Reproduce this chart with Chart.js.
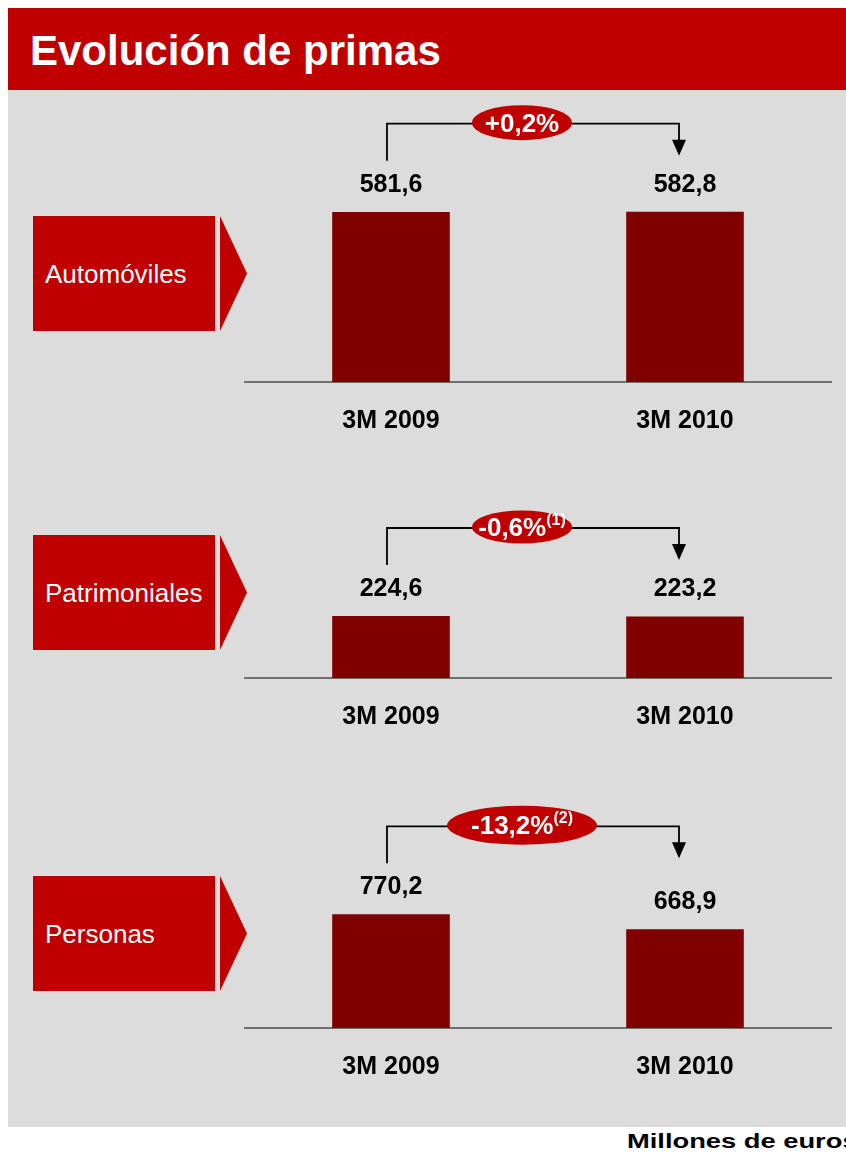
<!DOCTYPE html>
<html>
<head>
<meta charset="utf-8">
<script src="https://cdn.jsdelivr.net/npm/chart.js@4"></script>
<style>
    body { margin: 0; width: 846px; height: 1154px; background: #fff; position: relative; overflow: hidden; font-family: "Liberation Sans", Arial, sans-serif; }
    .header { position: absolute; left: 8px; top: 8px; width: 838px; height: 82px; background: #C00000; }
    .header h1 { margin: 0; position: absolute; left: 22px; top: 19px; color: #fff; font-size: 42px; font-weight: bold; line-height: 48px; }
    .panel-bg { position: absolute; left: 8px; top: 90px; width: 838px; height: 1037px; background: #DCDCDC; }
    .seg { position: absolute; left: 33px; width: 182px; height: 115px; background: #C00000; color: #fff; font-size: 26px; line-height: 117px; text-indent: 12px; }
    .chev { position: absolute; left: 220px; width: 27px; height: 115px; background: #C00000; clip-path: polygon(0 0, 100% 50%, 0 100%); }
    .box { position: absolute; left: 244px; width: 588px; }
    .units { position: absolute; left: 627px; top: 1129px; font-size: 21px; font-weight: bold; color: #000; white-space: nowrap; transform: scaleX(1.3); transform-origin: left top; }
</style>
</head>
<body>
<div class="header"><h1>Evolución de primas</h1></div>
<div class="panel-bg"></div>

<div class="seg" style="top:216px" id="seg0"></div><div class="chev" style="top:216px"></div>
<div class="seg" style="top:535px" id="seg1"></div><div class="chev" style="top:535px"></div>
<div class="seg" style="top:876px" id="seg2"></div><div class="chev" style="top:876px"></div>

<div class="box" style="top:100px;height:340px"><canvas id="autoChart"></canvas></div>
<div class="box" style="top:500px;height:236px"><canvas id="patrimonialesChart"></canvas></div>
<div class="box" style="top:800px;height:286px"><canvas id="personasChart"></canvas></div>

<div class="units">Millones de euros</div>

<script>
// data
const periods = ["3M 2009", "3M 2010"];
const segments = ["Automóviles", "Patrimoniales", "Personas"];
const autoValues = [581.6, 582.8];
const patrimonialesValues = [224.6, 223.2];
const personasValues = [770.2, 668.9];
const changes = ["+0,2%", "-0,6%", "-13,2%"];
const notes = ["", "(1)", "(2)"];

const theme = {
    red: "#C00000",
    bar: "#800000",
    axis: "#6F6F6F",
    text: "#000"
};
const FONT = '"Liberation Sans", Arial, sans-serif';

segments.forEach((s, i) => document.getElementById("seg" + i).textContent = s);

const fmt = v => v.toFixed(1).replace(".", ",");

// value labels + change bracket
const bracketPlugin = {
    id: "bracket",
    afterDatasetsDraw(chart, args, opts) {
        const ctx = chart.ctx;
        const bars = chart.getDatasetMeta(0).data;
        const values = chart.data.datasets[0].data;

        ctx.save();
        ctx.fillStyle = theme.text;
        ctx.font = "bold 25px " + FONT;
        ctx.textAlign = "center";
        ctx.textBaseline = "middle";
        bars.forEach((b, i) => ctx.fillText(fmt(values[i]), b.x, b.y - 27));

        const by = Math.min(...bars.map(b => b.y)) - 88;
        const x1 = bars[0].x - 4;
        const x2 = bars[1].x - 6;

        ctx.strokeStyle = "#000";
        ctx.lineWidth = 1.8;
        ctx.beginPath();
        ctx.moveTo(x1, by + 37);
        ctx.lineTo(x1, by);
        ctx.lineTo(x2, by);
        ctx.lineTo(x2, by + 18);
        ctx.stroke();
        ctx.fillStyle = "#000";
        ctx.beginPath();
        ctx.moveTo(x2 - 7, by + 16);
        ctx.lineTo(x2 + 7, by + 16);
        ctx.lineTo(x2, by + 32);
        ctx.closePath();
        ctx.fill();

        const cx = (chart.chartArea.left + chart.chartArea.right) / 2 - 16;
        ctx.fillStyle = theme.red;
        ctx.beginPath();
        ctx.ellipse(cx, by - 1, opts.rx, opts.ry, 0, 0, Math.PI * 2);
        ctx.fill();

        ctx.font = "bold 26px " + FONT;
        const mainW = ctx.measureText(opts.change).width;
        ctx.font = "bold 16px " + FONT;
        const noteW = opts.note ? ctx.measureText(opts.note).width : 0;
        const startX = cx - (mainW + noteW) / 2;
        ctx.fillStyle = "#fff";
        ctx.textAlign = "left";
        ctx.textBaseline = "alphabetic";
        ctx.font = "bold 26px " + FONT;
        ctx.fillText(opts.change, startX, by + 8);
        if (opts.note) {
            ctx.font = "bold 16px " + FONT;
            ctx.fillText(opts.note, startX + mainW, by - 3);
        }
        ctx.restore();
    }
};

function makeChart(id, values, yMax, change, note, rx, ry) {
    return new Chart(document.getElementById(id), {
        type: "bar",
        data: {
            labels: periods,
            datasets: [{
                data: values,
                backgroundColor: theme.bar,
                barPercentage: 0.4,
                categoryPercentage: 1.0
            }]
        },
        options: {
            responsive: true,
            maintainAspectRatio: false,
            animation: false,
            layout: { padding: 0 },
            plugins: {
                legend: { display: false },
                tooltip: { enabled: false },
                bracket: { change: change, note: note, rx: rx, ry: ry }
            },
            scales: {
                x: {
                    grid: { display: false },
                    border: { display: true, color: theme.axis, width: 2 },
                    ticks: {
                        color: theme.text,
                        font: { family: FONT, size: 25, weight: "bold" },
                        padding: 16
                    },
                    afterFit: s => { s.height = 58; }
                },
                y: {
                    display: false,
                    min: 0,
                    max: yMax
                }
            }
        },
        plugins: [bracketPlugin]
    });
}

makeChart("autoChart", autoValues, 965, changes[0], notes[0], 50, 17.5);
makeChart("patrimonialesChart", patrimonialesValues, 645, changes[1], notes[1], 50, 16.5);
makeChart("personasChart", personasValues, 1545, changes[2], notes[2], 75, 19.5);
</script>
</body>
</html>
